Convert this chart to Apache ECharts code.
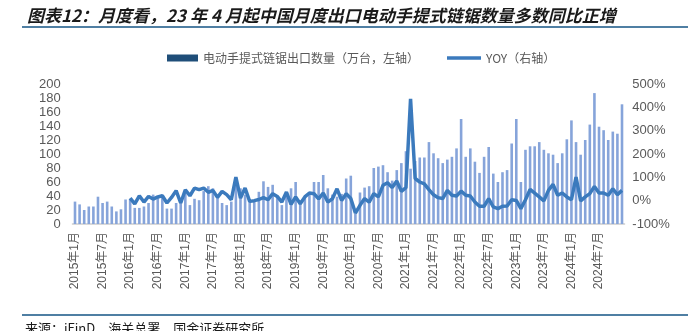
<!DOCTYPE html>
<html>
<head>
<meta charset="utf-8">
<script src="https://cdn.jsdelivr.net/npm/echarts@6/dist/echarts.min.js"></script>
<style>
  html, body { margin: 0; padding: 0; background: #fff; }
  #chart { width: 688px; height: 331px; }
</style>
</head>
<body>
<div id="chart"></div>
<script>
// Monthly exports of electric hand-held chainsaws, Jan 2015 – Dec 2024
const years = [2015, 2016, 2017, 2018, 2019, 2020, 2021, 2022, 2023, 2024];
const months = [1, 2, 3, 4, 5, 6, 7, 8, 9, 10, 11, 12];

// Export volume, 10k units (left axis)
const volume2015 = [32, 28, 20, 25, 25, 39, 30, 32, 25, 18, 21, 35];
const volume2016 = [36, 23, 23, 25, 30, 42, 37, 40, 22, 22, 30, 33];
const volume2017 = [48, 27, 36, 34, 47, 54, 51, 38, 30, 27, 32, 64];
const volume2018 = [51, 42, 35, 34, 46, 61, 53, 56, 40, 27, 42, 51];
const volume2019 = [60, 34, 38, 45, 60, 60, 70, 51, 42, 39, 43, 65];
const volume2020 = [69, 15, 45, 52, 54, 80, 82, 84, 74, 62, 77, 87];
const volume2021 = [104, 79, 90, 95, 95, 117, 101, 94, 87, 92, 96, 108];
const volume2022 = [150, 96, 108, 89, 73, 96, 110, 72, 60, 74, 77, 115];
const volume2023 = [150, 60, 106, 111, 111, 117, 106, 101, 99, 87, 101, 121];
const volume2024 = [148, 117, 99, 120, 142, 187, 139, 134, 120, 132, 129, 171];

// Year-over-year change, % (right axis); none for 2015
const yoy2016 = [11, -14, 21, -6, 18, 7, 16, 21, -10, 14, 43, -10];
const yoy2017 = [47, 21, 54, 47, 54, 36, 44, 14, 40, 26, 4, 101];
const yoy2018 = [11, 54, -3, 0, 5, 13, 4, 30, 18, -6, 37, -16];
const yoy2019 = [16, -13, 16, 33, 30, 8, 33, -6, 8, 51, 1, 30];
const yoy2020 = [9, -53, -20, 9, -6, 30, 16, 66, 77, 56, 84, 40];
const yoy2021 = [56, 436, 95, 80, 72, 47, 25, 13, 9, 44, 23, 20];
const yoy2022 = [41, 23, 20, -6, -24, -24, 9, -27, -34, -24, -23, 4];
const yoy2023 = [1, -34, 4, 48, 32, 16, -1, 44, 70, 23, 33, 16];
const yoy2024 = [4, 101, -1, 16, 30, 61, 33, 33, 23, 51, 26, 44];

const leftTicks = { min: 0, max: 200, interval: 20 };
const rightTicks = { min: -100, max: 500, interval: 100 };

const volumeName = '电动手提式链锯出口数量（万台，左轴）';
const yoyName = 'YOY（右轴）';

const categories = [];
years.forEach(y => months.forEach(m => categories.push(y + '年' + m + '月')));

const volume = [].concat(volume2015, volume2016, volume2017, volume2018, volume2019,
  volume2020, volume2021, volume2022, volume2023, volume2024);
const yoy = [].concat(new Array(12).fill(null), yoy2016, yoy2017, yoy2018, yoy2019,
  yoy2020, yoy2021, yoy2022, yoy2023, yoy2024);

const labelColor = '#595959';
const lineColor = '#3b7abd';
const legendText = { color: labelColor, fontSize: 12, fontFamily: 'Noto Sans CJK SC' };
const chart = echarts.init(document.getElementById('chart'), null, { renderer: 'canvas' });

chart.setOption({
  animation: false,
  backgroundColor: '#ffffff',
  textStyle: { fontFamily: 'Liberation Sans, Noto Sans CJK SC, sans-serif' },
  title: {
    text: '图表12：月度看，23 年 4 月起中国月度出口电动手提式链锯数量多数同比正增',
    left: 22,
    top: 2,
    textStyle: {
      fontFamily: 'Noto Sans CJK SC',
      fontSize: 17,
      fontStyle: 'italic',
      fontWeight: 'bold',
      color: '#1a1a1a'
    }
  },
  graphic: [
    { type: 'rect', shape: { x: 22, y: 26, width: 666, height: 2 }, style: { fill: '#4f7fa3' } },
    { type: 'rect', shape: { x: 22, y: 314, width: 666, height: 2 }, style: { fill: '#4f7fa3' } },
    {
      type: 'text', left: 25, top: 322,
      style: {
        text: '来源：iFinD，海关总署，国金证券研究所',
        fill: '#1a1a1a',
        font: '13px "Noto Sans CJK SC"'
      }
    }
  ],
  legend: [
    {
      left: 162,
      top: 47,
      itemWidth: 31,
      itemHeight: 7,
      textStyle: legendText,
      data: [{ name: volumeName, icon: 'rect', itemStyle: { color: '#1f4e79' } }]
    },
    {
      left: 442,
      top: 47,
      itemWidth: 34,
      itemHeight: 3.5,
      textStyle: legendText,
      data: [{ name: yoyName, icon: 'rect', itemStyle: { color: lineColor } }]
    }
  ],
  grid: { left: 72.7, right: 63.7, top: 84, bottom: 107, containLabel: false },
  xAxis: {
    type: 'category',
    data: categories,
    boundaryGap: true,
    axisLine: { show: true, lineStyle: { color: '#d9d9d9', width: 2 } },
    axisTick: { show: false },
    axisLabel: {
      interval: 5,
      rotate: 90,
      margin: 8,
      color: labelColor,
      fontSize: 12,
      fontFamily: 'Liberation Sans, Noto Sans CJK SC'
    }
  },
  yAxis: [
    {
      type: 'value',
      min: leftTicks.min, max: leftTicks.max, interval: leftTicks.interval,
      axisLine: { show: false }, axisTick: { show: false }, splitLine: { show: false },
      axisLabel: { color: labelColor, fontSize: 13, margin: 12 }
    },
    {
      type: 'value',
      min: rightTicks.min, max: rightTicks.max, interval: rightTicks.interval,
      axisLine: { show: false }, axisTick: { show: false }, splitLine: { show: false },
      axisLabel: { color: labelColor, fontSize: 13, margin: 8, formatter: '{value}%' }
    }
  ],
  series: [
    {
      name: volumeName,
      type: 'bar',
      yAxisIndex: 0,
      data: volume,
      barWidth: 2.6,
      itemStyle: { color: '#86a4da' }
    },
    {
      name: yoyName,
      type: 'line',
      yAxisIndex: 1,
      data: yoy,
      symbol: 'none',
      lineStyle: { color: lineColor, width: 3.5 },
      itemStyle: { color: lineColor },
      z: 3
    }
  ]
});
</script>
</body>
</html>
